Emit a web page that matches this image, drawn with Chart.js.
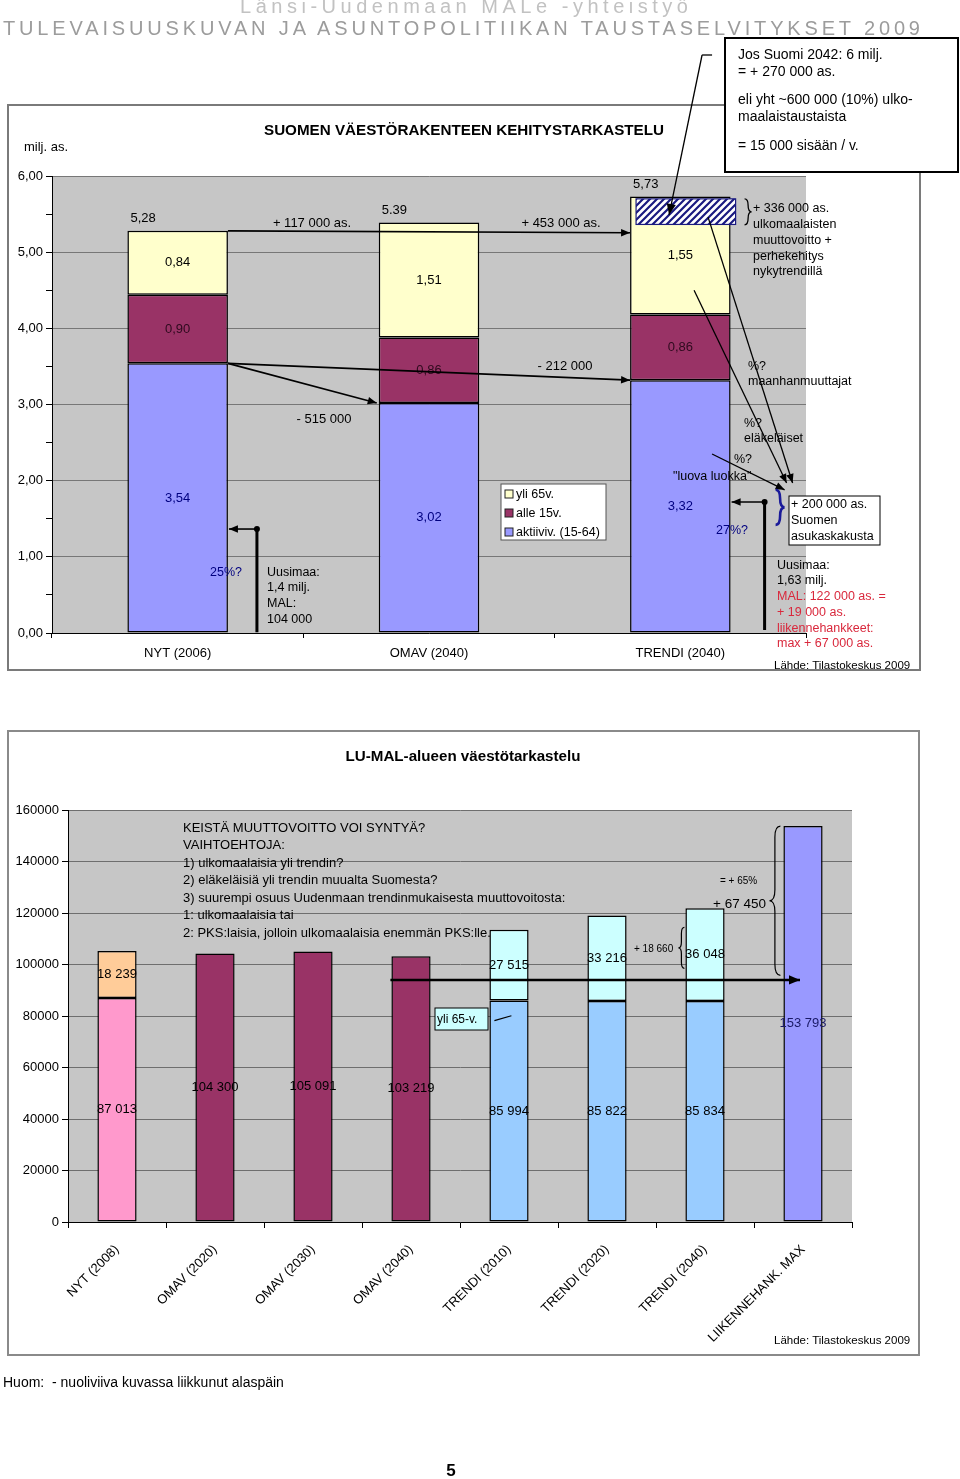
<!DOCTYPE html>
<html>
<head>
<meta charset="UTF-8">
<title>Väestörakenne</title>
<script src="https://cdn.jsdelivr.net/npm/chart.js"></script>
<style>
  body { margin: 0; background: #fff; font-family: "Liberation Sans", Arial, sans-serif; }
  #page { position: relative; width: 960px; height: 1479px; overflow: hidden; }
  .frame { position: absolute; box-sizing: border-box; }
  #topFrame { left: 7px; top: 104px; width: 914px; height: 567px; border: 2px solid #7a7a7a; }
  #botFrame { left: 7px; top: 730px; width: 913px; height: 626px; border: 2px solid #8a8a8a; }
  #topChart { position: absolute; left: 7px; top: 30px; }
  #botChart { position: absolute; left: 7px; top: 730px; }
  #overlay { position: absolute; left: 0; top: 0; }
  #overlay text { font-family: "Liberation Sans", Arial, sans-serif; }
</style>
</head>
<body>
<div id="page">
  <div class="frame" id="topFrame"></div>
  <div class="frame" id="botFrame"></div>
  <canvas id="topChart" width="914" height="641"></canvas>
  <canvas id="botChart" width="914" height="626"></canvas>

  <svg id="overlay" width="960" height="1479">
    <!-- otsikot -->
    <text x="240" y="13" font-size="20" fill="#c2c2c2" textLength="448" lengthAdjust="spacing">Länsi-Uudenmaan MALe -yhteistyö</text>
    <text x="3" y="35" font-size="20" fill="#9c9c9c" textLength="917" lengthAdjust="spacing">TULEVAISUUSKUVAN JA ASUNTOPOLITIIKAN TAUSTASELVITYKSET 2009</text>

    <!-- tekstilaatikko -->
    <rect x="725" y="38" width="233" height="134" fill="#fff" stroke="#000" stroke-width="2"/>
    <g font-size="14" fill="#000">
      <text x="738" y="59">Jos Suomi 2042: 6 milj.</text>
      <text x="738" y="76">= + 270 000 as.</text>
      <text x="738" y="104">eli yht ~600 000 (10%) ulko-</text>
      <text x="738" y="121">maalaistaustaista</text>
      <text x="738" y="150">= 15 000 sisään / v.</text>
    </g>

    <!-- ylempi kaavio -->
    <text x="464" y="135" font-size="15" font-weight="bold" text-anchor="middle" textLength="400" lengthAdjust="spacingAndGlyphs">SUOMEN VÄESTÖRAKENTEEN KEHITYSTARKASTELU</text>
    <text x="24" y="151" font-size="13">milj. as.</text>
    <g font-size="13" text-anchor="middle">
      <text x="312" y="226.5">+ 117 000 as.</text>
      <text x="561" y="226.5">+ 453 000 as.</text>
      <text x="324" y="423">- 515 000</text>
      <text x="565" y="370">- 212 000</text>
    </g>
    <g font-size="12.5">
      <text x="753" y="212">+ 336 000 as.</text>
      <text x="753" y="228">ulkomaalaisten</text>
      <text x="753" y="244">muuttovoitto +</text>
      <text x="753" y="260">perhekehitys</text>
      <text x="753" y="275">nykytrendillä</text>
      <text x="748" y="370">%?</text>
      <text x="748" y="385">maanhanmuuttajat</text>
      <text x="744" y="427">%?</text>
      <text x="744" y="442">eläkeläiset</text>
      <text x="734" y="463">%?</text>
      <text x="673" y="480">"luova luokka"</text>
      <text x="716" y="534" fill="#000080">27%?</text>
      <text x="210" y="576" fill="#000080">25%?</text>
      <text x="267" y="576">Uusimaa:</text>
      <text x="267" y="591">1,4 milj.</text>
      <text x="267" y="607">MAL:</text>
      <text x="267" y="623">104 000</text>
      <text x="777" y="569">Uusimaa:</text>
      <text x="777" y="584">1,63 milj.</text>
      <text x="777" y="600" fill="#d9283c">MAL: 122 000 as. =</text>
      <text x="777" y="616" fill="#d9283c">+ 19 000 as.</text>
      <text x="777" y="632" fill="#d9283c">liikennehankkeet:</text>
      <text x="777" y="647" fill="#d9283c">max + 67 000 as.</text>
    </g>
    <text x="774" y="669" font-size="11.5">Lähde: Tilastokeskus 2009</text>

    <rect x="789" y="496" width="91" height="49" fill="#fff" stroke="#000" stroke-width="1"/>
    <g font-size="12.5">
      <text x="791" y="508">+ 200 000 as.</text>
      <text x="791" y="524">Suomen</text>
      <text x="791" y="540">asukaskakusta</text>
    </g>

    <!-- selite -->
    <rect x="501" y="484" width="105" height="56" fill="#fff" stroke="#555" stroke-width="1"/>
    <rect x="505" y="490" width="8" height="8" fill="#ffffcc" stroke="#222"/>
    <rect x="505" y="509" width="8" height="8" fill="#993366" stroke="#222"/>
    <rect x="505" y="528" width="8" height="8" fill="#9999ff" stroke="#222"/>
    <g font-size="12.5">
      <text x="516" y="498">yli 65v.</text>
      <text x="516" y="517">alle 15v.</text>
      <text x="516" y="536">aktiiviv. (15-64)</text>
    </g>

    <!-- alempi kaavio -->
    <text x="463" y="761" font-size="15" font-weight="bold" text-anchor="middle" textLength="235" lengthAdjust="spacingAndGlyphs">LU-MAL-alueen väestötarkastelu</text>
    <g font-size="13">
      <text x="183" y="831.5">KEISTÄ MUUTTOVOITTO VOI SYNTYÄ?</text>
      <text x="183" y="849">VAIHTOEHTOJA:</text>
      <text x="183" y="866.5">1) ulkomaalaisia yli trendin?</text>
      <text x="183" y="884">2) eläkeläisiä yli trendin muualta Suomesta?</text>
      <text x="183" y="901.5">3) suurempi osuus Uudenmaan trendinmukaisesta muuttovoitosta:</text>
      <text x="183" y="919">1: ulkomaalaisia tai</text>
      <text x="183" y="936.5">2: PKS:laisia, jolloin ulkomaalaisia enemmän PKS:lle.</text>
    </g>
    <text x="720" y="883.5" font-size="10">= + 65%</text>
    <text x="713" y="908" font-size="13.5">+ 67 450</text>
    <text x="634" y="951.5" font-size="10">+ 18 660</text>
    <rect x="435" y="1008" width="53" height="22" fill="#ccffff" stroke="#000" stroke-width="1"/>
    <text x="437" y="1023" font-size="12">yli 65-v.</text>
    <text x="774" y="1344" font-size="11.5">Lähde: Tilastokeskus 2009</text>

    <text x="3" y="1387" font-size="14" xml:space="preserve">Huom:  - nuoliviiva kuvassa liikkunut alaspäin</text>
    <text x="451" y="1476" font-size="17" font-weight="bold" text-anchor="middle">5</text>
  </svg>
</div>

<script>
  const FONT = '"Liberation Sans", Arial, sans-serif';

  // Suomen väestö (milj.)
  const popCats = ['NYT (2006)', 'OMAV (2040)', 'TRENDI (2040)'];
  const activeAge = [3.54, 3.02, 3.32];
  const under15 = [0.90, 0.86, 0.86];
  const over65 = [0.84, 1.51, 1.55];
  const totalLabels = ['5,28', '5.39', '5,73'];
  const foreignGain = 0.336;

  // LU-MAL-alue
  const malCats = ['NYT (2008)', 'OMAV (2020)', 'OMAV (2030)', 'OMAV (2040)', 'TRENDI (2010)', 'TRENDI (2020)', 'TRENDI (2040)', 'LIIKENNEHANK. MAX'];
  const malBase = [87013, 104300, 105091, 103219, 85994, 85822, 85834, 153793];
  const malOver65 = [18239, null, null, null, 27515, 33216, 36048, null];
  const malBaseColors = ['#ff99cc', '#993366', '#993366', '#993366', '#99ccff', '#99ccff', '#99ccff', '#9999ff'];
  const malTopColors = ['#ffcc99', null, null, null, '#ccffff', '#ccffff', '#ccffff', null];

  function fmtComma(v) { return v.toFixed(2).replace('.', ','); }
  function fmtSpace(v) { return String(v).replace(/\B(?=(\d{3})+(?!\d))/g, ' '); }

  // harmaa piirtoalue
  const plotBg = {
    id: 'plotBg',
    beforeDraw(chart) {
      const a = chart.chartArea, ctx = chart.ctx;
      ctx.save();
      ctx.fillStyle = '#c6c6c6';
      ctx.fillRect(a.left, a.top, a.right - a.left, a.bottom - a.top);
      ctx.restore();
    }
  };

  function arrow(ctx, x1, y1, x2, y2, h) {
    h = h || 9;
    ctx.beginPath(); ctx.moveTo(x1, y1); ctx.lineTo(x2, y2); ctx.stroke();
    const a = Math.atan2(y2 - y1, x2 - x1);
    const c = Math.cos(a), s = Math.sin(a), w = h * 0.42;
    ctx.beginPath();
    ctx.moveTo(x2, y2);
    ctx.lineTo(x2 - h * c + w * s, y2 - h * s - w * c);
    ctx.lineTo(x2 - h * c - w * s, y2 - h * s + w * c);
    ctx.closePath(); ctx.fill();
  }

  // w > 0 piirtää '}', w < 0 piirtää '{'
  function brace(ctx, x, y1, y2, w) {
    const m = (y1 + y2) / 2, h = w / 2;
    const r = Math.min(Math.abs(w), (y2 - y1) / 4);
    ctx.beginPath();
    ctx.moveTo(x, y1);
    ctx.quadraticCurveTo(x + h, y1, x + h, y1 + r);
    ctx.lineTo(x + h, m - r);
    ctx.quadraticCurveTo(x + h, m, x + w, m);
    ctx.quadraticCurveTo(x + h, m, x + h, m + r);
    ctx.lineTo(x + h, y2 - r);
    ctx.quadraticCurveTo(x + h, y2, x, y2);
    ctx.stroke();
  }

  function dot(ctx, x, y) {
    ctx.beginPath(); ctx.arc(x, y, 3, 0, Math.PI * 2); ctx.fill();
  }

  function hatchPattern(ctx) {
    const p = document.createElement('canvas');
    p.width = 7; p.height = 7;
    const g = p.getContext('2d');
    g.fillStyle = '#fff'; g.fillRect(0, 0, 7, 7);
    g.strokeStyle = '#1a1a80'; g.lineWidth = 2.2;
    g.beginPath();
    g.moveTo(-1, 8); g.lineTo(8, -1);
    g.moveTo(-4, 4); g.lineTo(4, -4);
    g.moveTo(3, 11); g.lineTo(11, 3);
    g.stroke();
    return ctx.createPattern(p, 'repeat');
  }

  const segLabelColors = ['#000080', '#2e0a1e', '#000'];

  const topDecor = {
    id: 'topDecor',
    afterDatasetsDraw(chart) {
      const ctx = chart.ctx, ys = chart.scales.y;
      const Y = v => ys.getPixelForValue(v);
      const m0 = chart.getDatasetMeta(0);
      const L = i => m0.data[i].x - m0.data[i].width / 2;
      const R = i => m0.data[i].x + m0.data[i].width / 2;
      const totals = activeAge.map((v, i) => v + under15[i] + over65[i]);

      ctx.save();
      // ulkomaalaisten muuttovoitto (viivoitettu)
      const top2 = totals[2] - 0.03;
      ctx.fillStyle = hatchPattern(ctx);
      ctx.fillRect(L(2) + 6, Y(top2), R(2) - L(2) - 1, Y(top2 - foreignGain) - Y(top2));
      ctx.strokeStyle = '#1a1a80'; ctx.lineWidth = 1.2;
      ctx.strokeRect(L(2) + 6, Y(top2), R(2) - L(2) - 1, Y(top2 - foreignGain) - Y(top2));

      // arvot
      ctx.font = '13px ' + FONT;
      ctx.textAlign = 'center'; ctx.textBaseline = 'middle';
      chart.data.datasets.forEach((ds, d) => {
        chart.getDatasetMeta(d).data.forEach((el, i) => {
          const p = el.getProps(['x', 'y', 'base'], true);
          ctx.fillStyle = segLabelColors[d];
          ctx.fillText(fmtComma(ds.data[i]), p.x, (p.y + p.base) / 2);
        });
      });
      ctx.fillStyle = '#000'; ctx.textAlign = 'left';
      totals.forEach((t, i) => ctx.fillText(totalLabels[i], L(i) + 3, Y(t) - 12));

      // nuolet
      ctx.strokeStyle = '#000'; ctx.fillStyle = '#000'; ctx.lineWidth = 1.6;
      arrow(ctx, R(0), Y(totals[0]), L(2), Y(totals[0] - 0.025));
      arrow(ctx, R(0), Y(activeAge[0]), L(1) - 2, Y(activeAge[1]));
      arrow(ctx, R(0), Y(activeAge[0]), L(2), Y(activeAge[2]));

      ctx.lineWidth = 1.3;
      ctx.beginPath(); ctx.moveTo(L(2) + 82, 25); ctx.lineTo(L(2) + 72, 25); ctx.stroke();
      arrow(ctx, L(2) + 72, 25, L(2) + 39, Y(5.49), 11);
      arrow(ctx, L(2) + 64, Y(4.50), R(2) + 56, Y(1.97));
      arrow(ctx, L(2) + 78, Y(5.46), R(2) + 62, Y(1.97));
      arrow(ctx, L(2) + 82, Y(2.35), R(2) + 54, Y(1.88));
      brace(ctx, R(2) + 14, Y(5.70), Y(5.36), 7);

      // Uusimaan osuus
      ctx.lineWidth = 1.6;
      arrow(ctx, R(0) + 29, Y(1.365), R(0) + 1, Y(1.365));
      arrow(ctx, R(2) + 34, Y(1.72), R(2) + 1, Y(1.72));
      dot(ctx, R(0) + 29, Y(1.365)); dot(ctx, R(2) + 34, Y(1.72));
      ctx.lineWidth = 3;
      ctx.beginPath();
      ctx.moveTo(R(0) + 29, Y(1.365)); ctx.lineTo(R(0) + 29, Y(0.01));
      ctx.moveTo(R(2) + 34, Y(1.72)); ctx.lineTo(R(2) + 34, Y(0.04));
      ctx.stroke();

      ctx.strokeStyle = '#1a1a99'; ctx.lineWidth = 2.6;
      brace(ctx, R(2) + 45, Y(1.88), Y(1.42), 9);
      ctx.restore();
    }
  };

  const botDecor = {
    id: 'botDecor',
    afterDatasetsDraw(chart) {
      const ctx = chart.ctx, ys = chart.scales.y;
      const Y = v => ys.getPixelForValue(v);
      const m0 = chart.getDatasetMeta(0);
      const L = i => m0.data[i].x - m0.data[i].width / 2;

      ctx.save();
      ctx.font = '13px ' + FONT;
      ctx.textAlign = 'center'; ctx.textBaseline = 'middle';
      chart.data.datasets.forEach((ds, d) => {
        chart.getDatasetMeta(d).data.forEach((el, i) => {
          if (ds.data[i] == null) return;
          const p = el.getProps(['x', 'y', 'base'], true);
          ctx.fillStyle = (d === 0 && i === 7) ? '#1a1a66' : '#000';
          ctx.fillText(fmtSpace(ds.data[i]), p.x, (p.y + p.base) / 2);
        });
      });

      ctx.strokeStyle = '#000'; ctx.fillStyle = '#000';
      ctx.lineWidth = 2.5;
      arrow(ctx, L(3) - 1, Y(94000), m0.data[7].x - 3, Y(94000), 11);
      ctx.lineWidth = 1.2;
      brace(ctx, L(6) - 1, Y(114400), Y(98500), -6);
      brace(ctx, L(7) - 3, Y(153700), Y(95800), -11);
      ctx.beginPath();
      ctx.moveTo(L(4) + 5, Y(78200)); ctx.lineTo(L(4) + 22, Y(80100));
      ctx.stroke();
      ctx.restore();
    }
  };

  const barStyle = { borderColor: '#000', borderWidth: 1.5, borderSkipped: false, categoryPercentage: 1, barPercentage: 0.4 };

  new Chart(document.getElementById('topChart'), {
    type: 'bar',
    data: {
      labels: popCats,
      datasets: [
        Object.assign({ label: 'aktiiviv. (15-64)', data: activeAge, backgroundColor: '#9999ff' }, barStyle),
        Object.assign({ label: 'alle 15v.', data: under15, backgroundColor: '#993366' }, barStyle),
        Object.assign({ label: 'yli 65v.', data: over65, backgroundColor: '#ffffcc' }, barStyle)
      ]
    },
    options: {
      responsive: false,
      animation: false,
      devicePixelRatio: 1,
      layout: { padding: { top: 146, right: 115, left: 0, bottom: 0 } },
      plugins: { legend: { display: false }, tooltip: { enabled: false } },
      scales: {
        x: {
          stacked: true,
          grid: { drawOnChartArea: false, tickLength: 5, tickColor: '#000', offset: true },
          border: { color: '#000', width: 1 },
          ticks: { color: '#000', font: { size: 13, family: FONT }, padding: 8, maxRotation: 0, autoSkip: false },
          afterFit: s => { s.height = 38; }
        },
        y: {
          stacked: true, min: 0, max: 6,
          ticks: {
            stepSize: 0.5, autoSkip: false, color: '#000', padding: 3,
            font: { size: 13, family: FONT },
            callback: v => (v % 1 === 0 ? fmtComma(v) : '')
          },
          grid: {
            color: c => (c.tick && c.tick.value % 1 === 0 ? '#777' : 'rgba(0,0,0,0)'),
            tickColor: '#000', tickLength: 6
          },
          border: { color: '#000', width: 1 },
          afterFit: s => { s.width = 45; }
        }
      }
    },
    plugins: [plotBg, topDecor]
  });

  new Chart(document.getElementById('botChart'), {
    type: 'bar',
    data: {
      labels: malCats,
      datasets: [
        Object.assign({ label: 'muut', data: malBase, backgroundColor: malBaseColors }, barStyle),
        Object.assign({ label: 'yli 65-v.', data: malOver65, backgroundColor: malTopColors }, barStyle)
      ]
    },
    options: {
      responsive: false,
      animation: false,
      devicePixelRatio: 1,
      layout: { padding: { top: 80, right: 69, left: 0, bottom: 0 } },
      plugins: { legend: { display: false }, tooltip: { enabled: false } },
      scales: {
        x: {
          stacked: true,
          grid: { drawOnChartArea: false, tickLength: 6, tickColor: '#000', offset: true },
          border: { color: '#000', width: 1 },
          ticks: { color: '#000', font: { size: 13, family: FONT }, padding: 14, minRotation: 45, maxRotation: 45, autoSkip: false },
          afterFit: s => { s.height = 134; }
        },
        y: {
          stacked: true, min: 0, max: 160000,
          ticks: {
            stepSize: 20000, color: '#000', padding: 3,
            font: { size: 13, family: FONT },
            callback: v => String(v)
          },
          grid: { color: '#6e6e6e', tickColor: '#000', tickLength: 6 },
          border: { color: '#000', width: 1 },
          afterFit: s => { s.width = 61; }
        }
      }
    },
    plugins: [plotBg, botDecor]
  });
</script>
</body>
</html>
